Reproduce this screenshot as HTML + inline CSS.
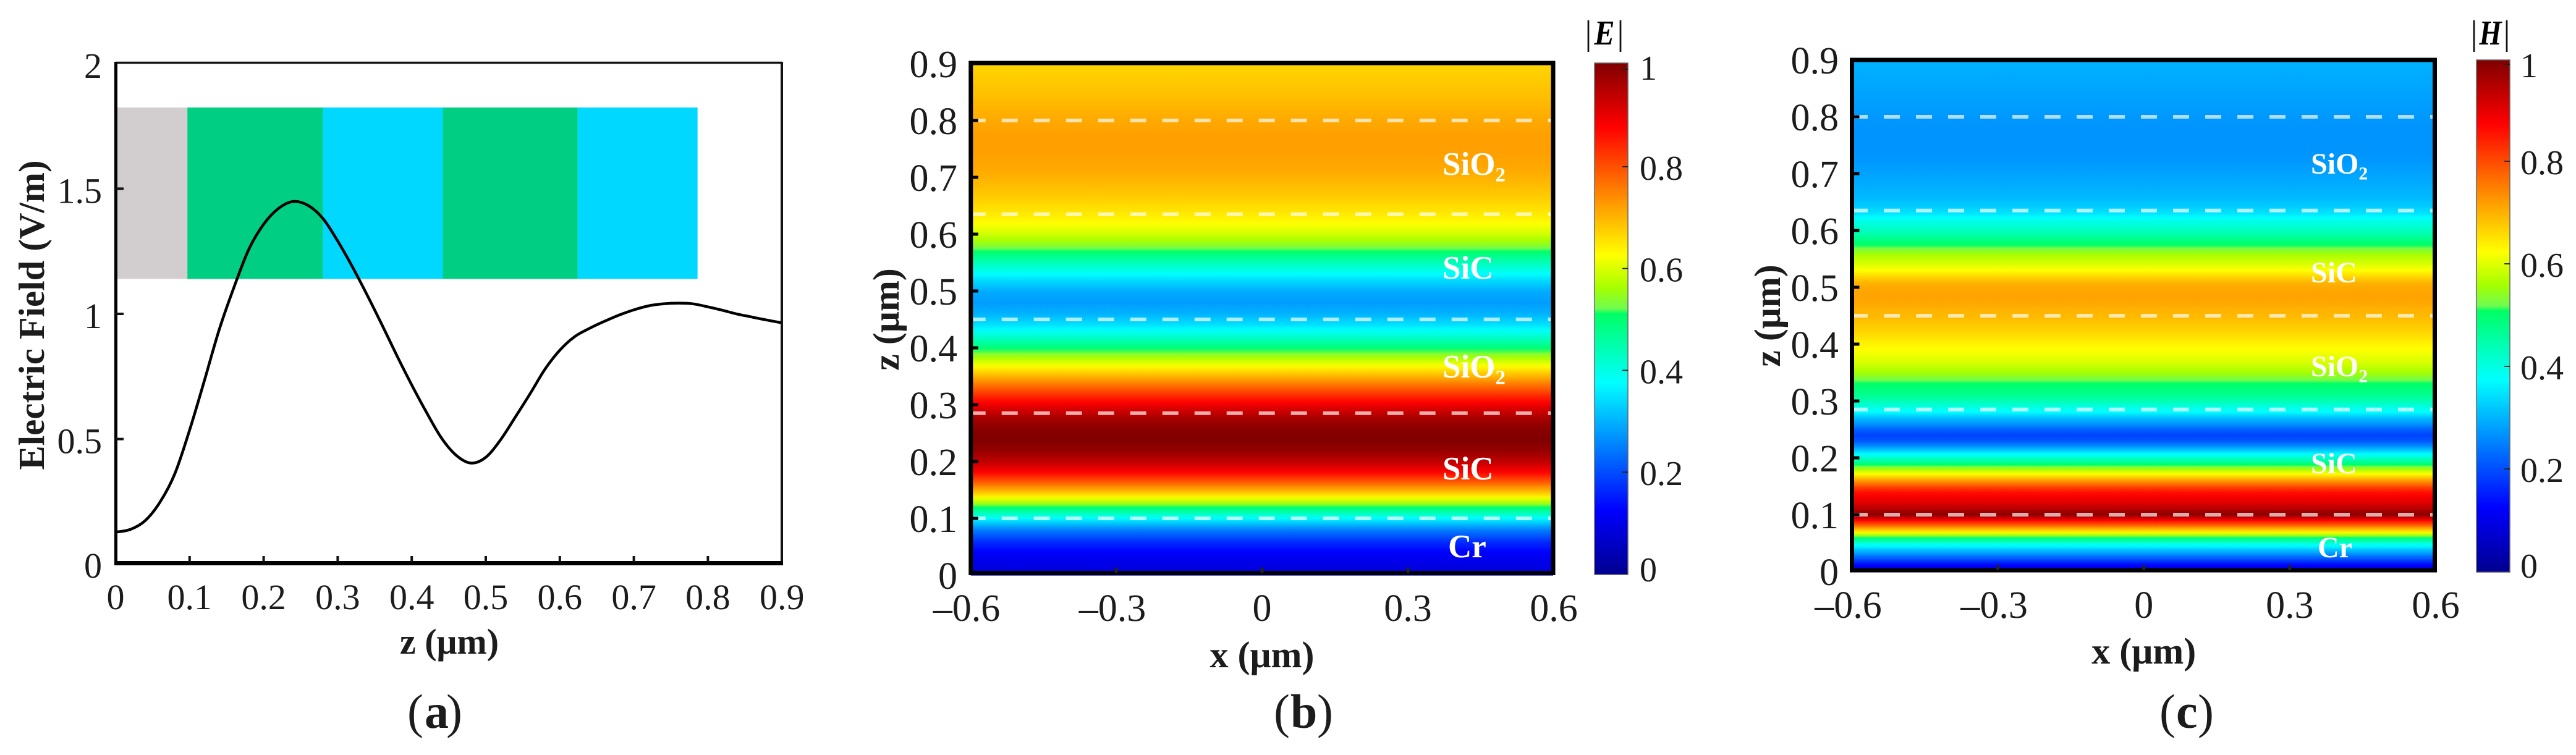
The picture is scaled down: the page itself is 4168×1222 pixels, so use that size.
<!DOCTYPE html>
<html lang="en">
<head>
<meta charset="utf-8">
<title>Electric and magnetic field distribution</title>
<style>
html,body{margin:0;padding:0;background:#fff;}
svg{display:block;font-family:"Liberation Serif",serif;}
</style>
</head>
<body>
<svg id="figure" xmlns="http://www.w3.org/2000/svg" width="4168" height="1222" viewBox="0 0 4168 1222">
<defs id="defs"></defs>
<rect x="0" y="0" width="4168" height="1222" fill="#ffffff"/>
<g id="panel-a"></g>
<g id="panel-b"></g>
<g id="panel-c"></g>
</svg>
<script>
// ---- data ----
const curveZ = [0,0.02,0.04,0.06,0.08,0.10,0.12,0.14,0.16,0.18,0.20,0.22,0.24,0.26,0.28,0.30,0.32,0.34,0.36,0.38,0.40,0.42,0.44,0.46,0.48,0.50,0.52,0.54,0.56,0.58,0.60,0.62,0.64,0.66,0.68,0.70,0.72,0.74,0.76,0.78,0.80,0.82,0.84,0.86,0.88,0.90];
const electricField = [0.128,0.139,0.174,0.248,0.361,0.536,0.734,0.937,1.107,1.258,1.358,1.421,1.449,1.433,1.381,1.291,1.187,1.074,0.955,0.833,0.716,0.606,0.505,0.435,0.404,0.427,0.497,0.588,0.682,0.779,0.855,0.909,0.942,0.970,0.995,1.016,1.032,1.040,1.043,1.040,1.028,1.014,0.999,0.987,0.975,0.964];
const magneticZ = [0,0.01,0.02,0.03,0.04,0.05,0.06,0.07,0.08,0.09,0.10,0.11,0.12,0.13,0.14,0.15,0.16,0.17,0.18,0.19,0.20,0.21,0.22,0.23,0.24,0.25,0.26,0.27,0.28,0.29,0.30,0.31,0.32,0.33,0.34,0.35,0.36,0.37,0.38,0.39,0.40,0.41,0.42,0.43,0.44,0.45,0.46,0.47,0.48,0.49,0.50,0.51,0.52,0.53,0.54,0.55,0.56,0.57,0.58,0.59,0.60,0.61,0.62,0.63,0.64,0.65,0.66,0.68,0.70,0.72,0.74,0.76,0.78,0.80,0.82,0.84,0.86,0.88,0.90];
const magneticField = [0.09,0.115,0.19,0.26,0.33,0.41,0.50,0.64,0.76,0.87,0.99,0.95,0.91,0.885,0.86,0.80,0.725,0.64,0.56,0.49,0.42,0.35,0.27,0.21,0.19,0.22,0.27,0.31,0.37,0.40,0.44,0.47,0.49,0.505,0.53,0.56,0.58,0.60,0.61,0.625,0.635,0.65,0.665,0.675,0.685,0.695,0.70,0.71,0.715,0.715,0.71,0.695,0.66,0.625,0.60,0.58,0.555,0.52,0.495,0.46,0.43,0.41,0.385,0.35,0.33,0.315,0.305,0.295,0.285,0.275,0.27,0.27,0.27,0.275,0.28,0.285,0.29,0.295,0.30];
const layerBounds = [0,0.097,0.28,0.442,0.624,0.786];
const layerNames = ['cr','sic','sio2','sic','sio2'];
const interfaceZ = [0.1,0.285,0.45,0.635,0.8];
const panelAXTicks = [0,0.1,0.2,0.3,0.4,0.5,0.6,0.7,0.8,0.9];
const panelAYTicks = [0,0.5,1,1.5,2];
const heatXTicks = [-0.6,-0.3,0,0.3,0.6];
const heatZTicks = [0,0.1,0.2,0.3,0.4,0.5,0.6,0.7,0.8,0.9];
const colorbarTicks = [0,0.2,0.4,0.6,0.8,1];
const cmapPos = [0,0.125,0.375,0.51,0.52,0.56,0.625,0.75,0.875,1];
const cmapRgb = [[0,0,143],[0,0,255],[0,255,255],[0,255,100],[112,252,80],[165,255,0],[255,255,0],[255,128,0],[255,0,0],[128,0,0]];

const NS = 'http://www.w3.org/2000/svg';
const defs = document.getElementById('defs');
let gradId = 0;

function jet(v){
  const t = Math.max(0,Math.min(1,v));
  let i = 0;
  while(i < cmapPos.length-2 && t > cmapPos[i+1]) i++;
  const f = (t-cmapPos[i])/(cmapPos[i+1]-cmapPos[i]);
  const c = cmapRgb[i].map((a,k)=>Math.round(a+(cmapRgb[i+1][k]-a)*f));
  return 'rgb('+c.join(',')+')';
}
function mk(tag,attrs,parent,name){
  const el = document.createElementNS(NS,tag);
  for(const k in attrs) el.setAttribute(k,attrs[k]);
  
  
  parent.appendChild(el);
  return el;
}
function label(parent,str,x,y,size,name,extra){
  const a = Object.assign({x:x,y:y,'font-size':size,fill:'#1c1c1c','font-family':'"Liberation Serif",serif'},extra||{});
  const t = mk('text',a,parent,name);
  t.textContent = str;
  return t;
}
function fmt(v){
  const s = String(Math.abs(v));
  return (v<0?'\u2013':'')+s;
}
function smoothPath(xs,ys){
  let d = 'M'+xs[0].toFixed(1)+' '+ys[0].toFixed(1);
  for(let i=0;i<xs.length-1;i++){
    const x0=xs[Math.max(i-1,0)],y0=ys[Math.max(i-1,0)],x1=xs[i],y1=ys[i],x2=xs[i+1],y2=ys[i+1],x3=xs[Math.min(i+2,xs.length-1)],y3=ys[Math.min(i+2,xs.length-1)];
    d+=' C'+(x1+(x2-x0)/6).toFixed(1)+' '+(y1+(y2-y0)/6).toFixed(1)+' '+(x2-(x3-x1)/6).toFixed(1)+' '+(y2-(y3-y1)/6).toFixed(1)+' '+x2.toFixed(1)+' '+y2.toFixed(1);
  }
  return d;
}

// ---- panel (a) ----
(function(){
  const g = document.getElementById('panel-a');
  const x = z => 187 + 1198*z;
  const y = v => 913.2 - 405.2*v;
  const layerFill = {cr:'#d2ced0',sic:'#00cf83',sio2:'#00d8ff'};
  layerNames.forEach((n,i)=>{
    mk('rect',{x:x(layerBounds[i]),y:174,width:x(layerBounds[i+1])-x(layerBounds[i]),height:277.5,fill:layerFill[n]},g,'layer-'+n+'-'+i);
  });
  mk('path',{d:smoothPath(curveZ.map(x),electricField.map(y)),fill:'none',stroke:'#000','stroke-width':4.5},g,'electric-field-curve');
  mk('line',{x1:187.5,y1:101.5,x2:1265,y2:101.5,stroke:'#111','stroke-width':3.5},g,'axis-top');
  mk('line',{x1:1265,y1:100,x2:1265,y2:914,stroke:'#111','stroke-width':4},g,'axis-right');
  mk('line',{x1:187.5,y1:100,x2:187.5,y2:915,stroke:'#000','stroke-width':5},g,'y-axis-line');
  mk('line',{x1:185,y1:911.5,x2:1267,y2:911.5,stroke:'#000','stroke-width':7},g,'x-axis-line');
  panelAXTicks.forEach(v=>{
    if(v>0 && v<0.9) mk('line',{x1:x(v),y1:900,x2:x(v),y2:910,stroke:'#111','stroke-width':4},g,'x-tick');
    label(g,String(v),x(v),986,58,'x-tick-label',{'text-anchor':'middle'});
  });
  panelAYTicks.forEach(v=>{
    if(v>0 && v<2) mk('line',{x1:187,y1:y(v),x2:200,y2:y(v),stroke:'#111','stroke-width':4},g,'y-tick');
    label(g,String(v),165,v===0?935:y(v)+23,58,'y-tick-label',{'text-anchor':'end'});
  });
  label(g,'z (\u03bcm)',727,1058,58,'x-axis-title',{'text-anchor':'middle','font-weight':'bold'});
  label(g,'Electric Field (V/m)',0,0,59,'y-axis-title',{'text-anchor':'middle','font-weight':'bold',transform:'translate(71 510) rotate(-90)'});
  label(g,'(',659,1178,78,'panel-a-label-open');
  label(g,'a',687,1178,78,'panel-a-label',{'font-weight':'bold'});
  label(g,')',722,1178,78,'panel-a-label-close');
})();

// ---- heatmap panels ----
function heatPanel(id,o,zs,vals){
  const g = document.getElementById(id);
  const x = v => o.x0 + (o.x1-o.x0)*(v+0.6)/1.2;
  const y = z => o.y0 - 920*z;
  const cells = mk('g',{},g,'heatmap-cells');
  for(let i=0;i<zs.length-1;i++){
    const gid = 'grad'+(gradId++);
    const lg = document.createElementNS(NS,'linearGradient');
    lg.setAttribute('id',gid);
    lg.setAttribute('x1','0'); lg.setAttribute('y1','1'); lg.setAttribute('x2','0'); lg.setAttribute('y2','0');
    for(let s=0;s<=4;s++){
      const st = document.createElementNS(NS,'stop');
      st.setAttribute('offset',s/4);
      st.setAttribute('stop-color',jet(vals[i]+(vals[i+1]-vals[i])*s/4));
      lg.appendChild(st);
    }
    defs.appendChild(lg);
    const yTop = y(zs[i+1]), yBot = y(zs[i]);
    mk('rect',{x:o.fx0,y:yTop,width:o.fx1-o.fx0,height:yBot-yTop+0.6,fill:'url(#'+gid+')'},cells,'heatmap-cell');
  }
  interfaceZ.forEach(z=>{
    mk('line',{x1:o.dashStart,y1:y(z),x2:o.fx1-3,y2:y(z),stroke:'#fff','stroke-opacity':0.68,'stroke-width':6,'stroke-dasharray':'26 26'},g,'interface-dashed-line');
  });
  mk('rect',{x:o.fx0,y:o.fy0,width:o.fx1-o.fx0,height:o.fy1-o.fy0,fill:'none',stroke:'#000','stroke-width':o.fw},g,'plot-frame');
  heatXTicks.forEach(v=>{
    if(v>-0.6 && v<0.6) mk('line',{x1:x(v),y1:o.fy1-9,x2:x(v),y2:o.fy1,stroke:'#222','stroke-width':5},g,'x-tick');
    label(g,fmt(v),x(v)-(v<0?6:0),o.xLabelY,62,'x-tick-label',{'text-anchor':'middle'});
  });
  heatZTicks.forEach(v=>{
    if(v>0 && v<0.9) mk('line',{x1:o.fx0,y1:y(v),x2:o.fx0+12,y2:y(v),stroke:'#000','stroke-width':5},g,'z-tick');
    label(g,String(v),o.yLabelX,y(v)+22,62,'z-tick-label',{'text-anchor':'end'});
  });
  label(g,'x (\u03bcm)',x(0),o.xTitleY,60,'x-axis-title',{'text-anchor':'middle','font-weight':'bold'});
  label(g,'z (\u03bcm)',0,0,60,'z-axis-title',{'text-anchor':'middle','font-weight':'bold',transform:'translate('+o.yTitleX+' '+y(0.45)+') rotate(-90)'});

  o.mats.forEach(m=>{
    const t = label(g,m.t,m.x,m.y,o.matSize,'material-label',{fill:'#fff','font-weight':'bold'});
    if(m.sub){
      const s = document.createElementNS(NS,'tspan');
      s.setAttribute('font-size',o.matSize*0.62);
      s.setAttribute('dy',o.matSize*0.2);
      s.textContent = '2';
      t.appendChild(s);
    }
  });

  // colour bar
  const cgid = 'grad'+(gradId++);
  const cg = document.createElementNS(NS,'linearGradient');
  cg.setAttribute('id',cgid);
  cg.setAttribute('x1','0'); cg.setAttribute('y1','1'); cg.setAttribute('x2','0'); cg.setAttribute('y2','0');
  cmapPos.forEach((p,i)=>{
    const st = document.createElementNS(NS,'stop');
    st.setAttribute('offset',p);
    st.setAttribute('stop-color','rgb('+cmapRgb[i].join(',')+')');
    cg.appendChild(st);
  });
  defs.appendChild(cg);
  mk('rect',{x:o.cx0,y:o.cy0,width:o.cx1-o.cx0,height:o.cy1-o.cy0,fill:'url(#'+cgid+')',stroke:'#666','stroke-width':1.5},g,'colorbar');
  const cy = v => o.cZero - o.cSpan*v;
  colorbarTicks.forEach(v=>{
    const ty = Math.min(Math.max(cy(v),o.cTickMin),o.cy1);
    if(v>0) mk('line',{x1:o.cx1-9,y1:ty,x2:o.cx1,y2:ty,stroke:'#222','stroke-width':1.8},g,'colorbar-tick');
    const by = Math.min(Math.max(cy(v)+21,o.cLabMin),o.cLabMax);
    label(g,String(v),o.cLabelX,by,56,'colorbar-tick-label');
  });
  label(g,'|',o.barL,o.titleY,o.titleSize,'colorbar-title-bar-left',{'text-anchor':'middle',fill:'#111'});
  label(g,'|',o.barR,o.titleY,o.titleSize,'colorbar-title-bar-right',{'text-anchor':'middle',fill:'#111'});
  label(g,o.title,(o.barL+o.barR)/2,o.titleY,o.titleSize,'colorbar-title',{'text-anchor':'middle','font-weight':'bold','font-style':'italic',fill:'#000',textLength:o.titleW,lengthAdjust:'spacingAndGlyphs'});

  label(g,'(',o.cap[0],1178,78,'panel-label-open');
  label(g,o.cap[1],o.cap[2],1178,78,'panel-label',{'font-weight':'bold'});
  label(g,')',o.cap[3],1178,78,'panel-label-close');
}

const fieldPeak = Math.max.apply(null,electricField);
const electricHeat = electricField.map(v=>v/fieldPeak);

heatPanel('panel-b',{
  x0:1570,x1:2514,y0:931,fx0:1570.8,fx1:2513,fy0:102,fy1:927.5,fw:7,dashStart:1568.7,
  xLabelY:1005,yLabelX:1549,xTitleY:1080,yTitleX:1454,matSize:53,
  mats:[{t:'SiO',sub:1,x:2334,y:283},{t:'SiC',x:2334,y:451},{t:'SiO',sub:1,x:2334,y:611},{t:'SiC',x:2334,y:776},{t:'Cr',x:2343,y:902}],
  cx0:2580,cx1:2634,cy0:102,cy1:930,cZero:929,cSpan:824,cTickMin:112,cLabMin:129,cLabMax:941,cLabelX:2653,
  barL:2570,barR:2622,titleY:72,titleSize:56,title:'E',titleW:33,cap:[2061,'b',2088,2131]
},curveZ,electricHeat);

heatPanel('panel-c',{
  x0:2996.5,x1:3941,y0:925,fx0:2996.5,fx1:3939.5,fy0:97,fy1:923,fw:7,dashStart:2996,
  xLabelY:1000,yLabelX:2975,xTitleY:1074,yTitleX:2880,matSize:48,
  mats:[{t:'SiO',sub:1,x:3739,y:281},{t:'SiC',x:3739,y:457},{t:'SiO',sub:1,x:3739,y:609},{t:'SiC',x:3739,y:766},{t:'Cr',x:3750,y:902}],
  cx0:4007,cx1:4061,cy0:97,cy1:926,cZero:925,cSpan:830,cTickMin:104,cLabMin:125,cLabMax:935,cLabelX:4078,
  barL:4003,barR:4056,titleY:72,titleSize:56,title:'H',titleW:36,cap:[3494,'c',3521,3556]
},magneticZ,magneticField);
</script>
</body>
</html>
